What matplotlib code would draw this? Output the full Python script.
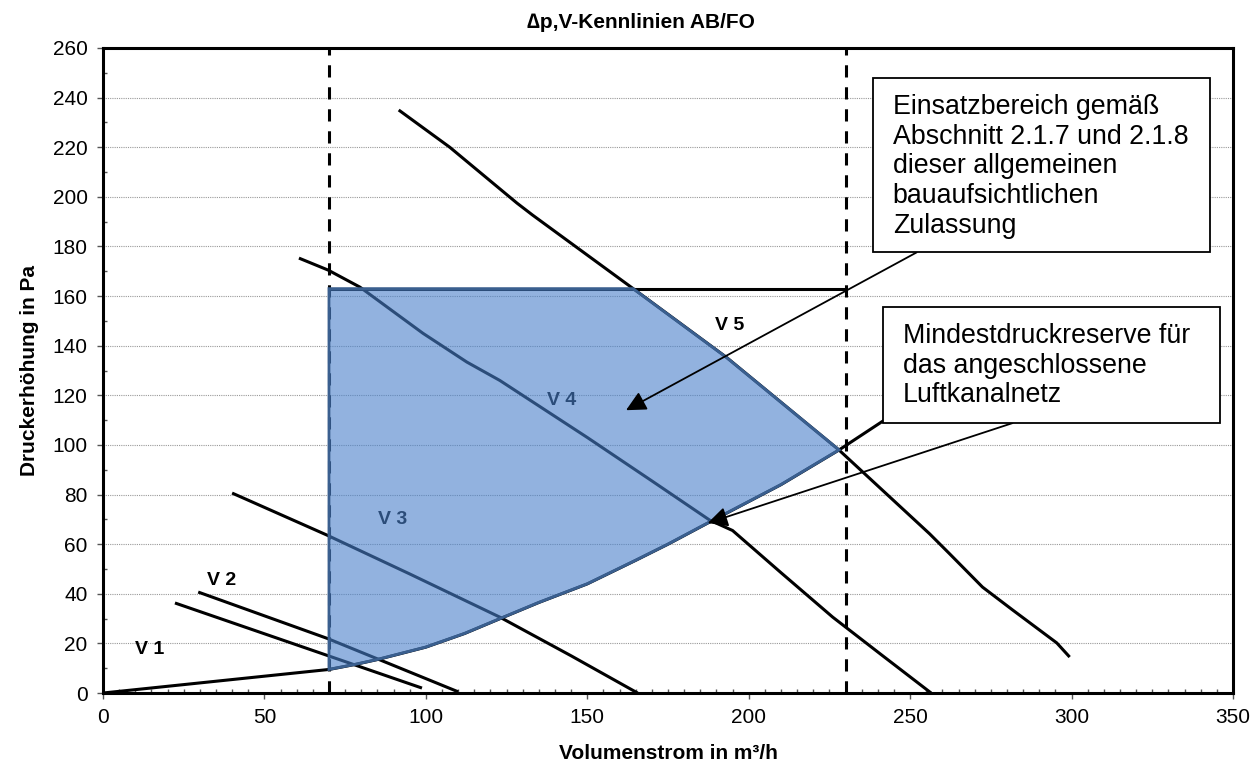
import numpy as np
import matplotlib
matplotlib.use('Agg')
import matplotlib.pyplot as plt
from matplotlib.patches import Rectangle, Polygon
from matplotlib.ticker import MultipleLocator

plt.rcParams['font.family'] = ['Liberation Sans', 'DejaVu Sans']

# fan curves V1..V5 (volume flow m3/h, pressure Pa)
v1_x = [22.3, 60, 98.8]
v1_y = [36.3, 19.4, 2.0]
v2_x = [29.5, 69.5, 110]
v2_y = [40.7, 22.0, 0.5]
v3_x = [40, 69.3, 95, 122.9, 145, 165.6]
v3_y = [80.6, 63.7, 48, 30.6, 15.0, 0]
v4_x = [60.7, 69.7, 79.6, 99.1, 112.7, 122.9, 150, 170, 187.9, 195, 210, 226, 241, 256.5]
v4_y = [175.3, 170.5, 163.6, 145, 133.4, 126, 103, 85.5, 69.7, 65.5, 48.5, 30.6, 15.5, 0]
v5_x = [91.6, 107.4, 128.2, 133, 164, 193, 228, 256, 262, 272.4, 281.7, 295.4, 299.4]
v5_y = [235, 220, 197.5, 192.7, 163.2, 135.4, 97.9, 64.2, 56.4, 42.7, 33.5, 20.2, 14.5]

# system curve (Anlagenkennlinie)
sys_x = [0, 70, 78, 85, 100, 112, 123, 135, 150, 165, 175, 188, 210, 228, 242]
sys_y = [0, 9.5, 11.5, 13.5, 18.5, 24, 30, 36.5, 44, 53.5, 60, 69, 84, 98, 110]

# operating range limits
q_min = 70
q_max = 230
p_max = 163

curve_labels = ['V 1', 'V 2', 'V 3', 'V 4', 'V 5']
label_pos = [(14.6, 17.7), (36.8, 45.5), (89.8, 70.1), (142.1, 118.1), (194.1, 148.1)]

fig = plt.figure(figsize=(12.54, 7.64), dpi=100)
ax = fig.add_axes([0.0821, 0.0929, 0.9012, 0.8443])
ax.set_xlim(0, 350)
ax.set_ylim(0, 260)

lw = 2.2
for xs, ys in [(v1_x, v1_y), (v2_x, v2_y), (v3_x, v3_y), (v4_x, v4_y), (v5_x, v5_y)]:
    ax.plot(xs, ys, color='black', lw=lw, zorder=3, solid_capstyle='butt')
ax.plot(sys_x, sys_y, color='black', lw=lw, zorder=3)

# max pressure line and flow limits
ax.plot([q_min, q_max], [p_max, p_max], color='black', lw=lw, zorder=3)
for q in (q_min, q_max):
    ax.axvline(q, color='black', lw=lw, dashes=(4, 3.2), zorder=3)

# operating range polygon
sx = np.array(sys_x, dtype=float)
sy = np.array(sys_y, dtype=float)
p_low = np.interp(q_min, sx, sy)
v5x = np.array(v5_x)[::-1]
v5y = np.array(v5_y)[::-1]
q_top = np.interp(p_max, v5y, v5x)
q_right = 228
top_pts = [(q_min, p_low), (q_min, p_max), (q_top, p_max)]
mask = (v5x > q_top) & (v5x < q_right)
right_pts = list(zip(v5x[mask], v5y[mask]))
right_pts.append((q_right, np.interp(q_right, sx, sy)))
mask2 = (sx > q_min) & (sx < q_right)
bottom_pts = list(zip(sx[mask2][::-1], sy[mask2][::-1]))
poly_pts = top_pts + right_pts + bottom_pts
ax.add_patch(Polygon(poly_pts, closed=True, facecolor='#4980cb', alpha=0.6,
                     edgecolor='none', zorder=4))
ax.add_patch(Polygon(poly_pts, closed=True, facecolor='none',
                     edgecolor='#3a5f8f', lw=2.0, zorder=4.5))

for lab, (lx, ly) in zip(curve_labels, label_pos):
    ax.text(lx, ly, lab, fontsize=14, fontweight='bold', ha='center', va='center',
            color='black', zorder=3.5)

# annotation boxes
box1 = Rectangle((238.4, 177.6), 104.6, 70.2, facecolor='white', edgecolor='black',
                 lw=1.3, zorder=6)
ax.add_patch(box1)
ax.text(244.6, 212.3, 'Einsatzbereich gemäß\nAbschnitt 2.1.7 und 2.1.8\n'
        'dieser allgemeinen\nbauaufsichtlichen\nZulassung',
        fontsize=19.3, ha='left', va='center', linespacing=1.19, zorder=7)
box2 = Rectangle((241.5, 108.8), 104.5, 46.8, facecolor='white', edgecolor='black',
                 lw=1.3, zorder=6)
ax.add_patch(box2)
ax.text(247.7, 132.0, 'Mindestdruckreserve für\ndas angeschlossene\nLuftkanalnetz',
        fontsize=19.3, ha='left', va='center', linespacing=1.19, zorder=7)

arrow = dict(arrowstyle='-|>,head_length=0.6,head_width=0.3', color='black', lw=1.3,
             mutation_scale=20, shrinkA=0, shrinkB=0)
ax.annotate('', xy=(162, 114), xytext=(252, 177.6), arrowprops=arrow, zorder=5)
ax.annotate('', xy=(187.3, 68.5), xytext=(281.7, 108.8), arrowprops=arrow, zorder=5)

# axes styling
for s in ax.spines.values():
    s.set_linewidth(lw)
    s.set_color('black')
    s.set_zorder(8)
ax.xaxis.set_major_locator(MultipleLocator(50))
ax.xaxis.set_minor_locator(MultipleLocator(5))
ax.yaxis.set_major_locator(MultipleLocator(20))
ax.yaxis.set_minor_locator(MultipleLocator(10))
ax.tick_params(which='major', direction='out', length=4, width=1, color='#555555',
               labelsize=15, pad=7)
ax.tick_params(which='minor', direction='in', length=3, width=1, color='#555555')
ax.grid(axis='y', which='major', color='#999999', lw=0.8, linestyle=(0, (1, 1)), zorder=0)
ax.set_axisbelow(True)

ax.set_xlabel('Volumenstrom in m³/h', fontsize=15, fontweight='bold', labelpad=12)
ax.set_ylabel('Druckerhöhung in Pa', fontsize=15, fontweight='bold', labelpad=10)
fig.text(0.511, 0.971, '∆p,V-Kennlinien AB/FO', fontsize=15, fontweight='bold',
         ha='center', va='center')

fig.savefig('out.png', dpi=100)
